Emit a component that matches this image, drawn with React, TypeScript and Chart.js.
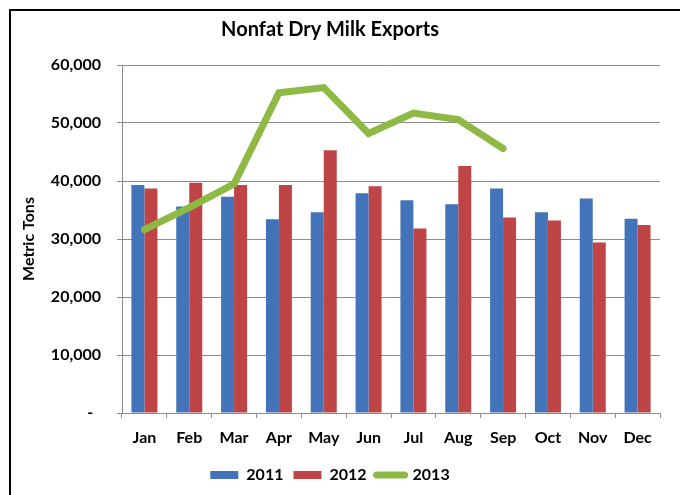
import React, { useEffect, useRef } from 'react';
import { Chart, registerables } from 'chart.js';

Chart.register(...registerables);

const months = ['Jan', 'Feb', 'Mar', 'Apr', 'May', 'Jun', 'Jul', 'Aug', 'Sep', 'Oct', 'Nov', 'Dec'];
const seriesNames = ['2011', '2012', '2013'];
const exports2011 = [39300, 35600, 37300, 33400, 34600, 37900, 36700, 36000, 38700, 34600, 37000, 33500];
const exports2012 = [38700, 39700, 39300, 39300, 45300, 39100, 31800, 42600, 33700, 33200, 29400, 32400];
const exports2013 = [31600, 35400, 39500, 55200, 56100, 48200, 51700, 50600, 45600, null, null, null];
const yMin = 0;
const yMax = 60000;
const yStep = 10000;

const BLUE = '#4374B9';
const RED = '#BE4445';
const GREEN = '#8EB944';
const GRID = '#8c8c8c';
const FONT = 'Lato';

const framePlugin = {
  id: 'frame',
  beforeDraw(chart: any) {
    const ctx = chart.ctx;
    ctx.save();
    ctx.fillStyle = '#ffffff';
    ctx.fillRect(0, 0, chart.width, chart.height);
    ctx.strokeStyle = '#000000';
    ctx.lineWidth = 2;
    ctx.strokeRect(10, 10, chart.width, chart.height);
    ctx.restore();
  },
};

export default function App() {
  const canvasRef = useRef<HTMLCanvasElement | null>(null);

  useEffect(() => {
    if (!canvasRef.current) return;
    const chart = new Chart(canvasRef.current, {
      type: 'bar',
      data: {
        labels: months,
        datasets: [
          {
            type: 'bar',
            label: seriesNames[0],
            data: exports2011,
            backgroundColor: BLUE,
            borderWidth: 0,
            order: 1,
          },
          {
            type: 'bar',
            label: seriesNames[1],
            data: exports2012,
            backgroundColor: RED,
            borderWidth: 0,
            order: 2,
          },
          {
            type: 'line',
            label: seriesNames[2],
            data: exports2013,
            borderColor: GREEN,
            backgroundColor: GREEN,
            borderWidth: 7,
            pointRadius: 0,
            tension: 0,
            borderCapStyle: 'round',
            borderJoinStyle: 'miter',
            spanGaps: false,
            order: 0,
          } as any,
        ],
      },
      options: {
        responsive: false,
        animation: false,
        events: [],
        layout: { padding: { left: 0, right: 20, top: 0, bottom: 2 } },
        datasets: {
          bar: { barPercentage: 1, categoryPercentage: 0.58 },
        },
        plugins: {
          title: {
            display: true,
            text: 'Nonfat Dry Milk Exports',
            color: '#000',
            font: { family: FONT, size: 20, weight: 'bold' },
            padding: { top: 18, bottom: 23 },
          },
          legend: {
            display: true,
            position: 'bottom',
            labels: {
              color: '#000',
              font: { family: FONT, size: 16, weight: 'bold' },
              usePointStyle: true,
              pointStyleWidth: 28,
              boxHeight: 8,
              padding: 10,
              generateLabels: (ch: any) => {
                const items = Chart.defaults.plugins.legend.labels.generateLabels(ch);
                items.sort((a: any, b: any) => a.datasetIndex - b.datasetIndex);
                return items.map((it: any) => {
                  if (it.datasetIndex === 2) {
                    return { ...it, pointStyle: 'line', lineWidth: 7, strokeStyle: GREEN, fillStyle: GREEN, lineCap: 'round' };
                  }
                  return { ...it, pointStyle: 'rect', lineWidth: 0 };
                });
              },
            },
          },
          tooltip: { enabled: false },
        },
        scales: {
          x: {
            offset: true,
            grid: {
              offset: true,
              drawOnChartArea: false,
              drawTicks: true,
              tickLength: 5,
              color: GRID,
            },
            border: { display: true, color: GRID, width: 1 },
            ticks: {
              color: '#000',
              font: { family: FONT, size: 16, weight: 'bold' },
              padding: 10,
              maxRotation: 0,
              autoSkip: false,
            },
            afterFit: (scale: any) => {
              scale.height = 44;
            },
          },
          y: {
            min: yMin,
            max: yMax,
            grid: {
              color: GRID,
              drawTicks: true,
              tickLength: 5,
            },
            border: { display: true, color: GRID, width: 1 },
            ticks: {
              stepSize: yStep,
              color: '#000',
              font: { family: FONT, size: 16, weight: 'bold' },
              padding: 16,
              callback: (v: any) => (Number(v) === 0 ? '-  ' : Number(v).toLocaleString('en-US')),
            },
            title: {
              display: true,
              text: 'Metric Tons',
              color: '#000',
              font: { family: FONT, size: 16, weight: 'bold' },
              padding: { top: 19, bottom: 0 },
            },
            afterFit: (scale: any) => {
              scale.width = 122;
            },
          },
        },
      },
      plugins: [framePlugin],
    });
    return () => chart.destroy();
  }, []);

  return (
    <div style={{ position: 'absolute', left: 0, top: 0, width: 680, height: 495 }}>
      <canvas ref={canvasRef} width={680} height={495} style={{ display: 'block' }} />
    </div>
  );
}
